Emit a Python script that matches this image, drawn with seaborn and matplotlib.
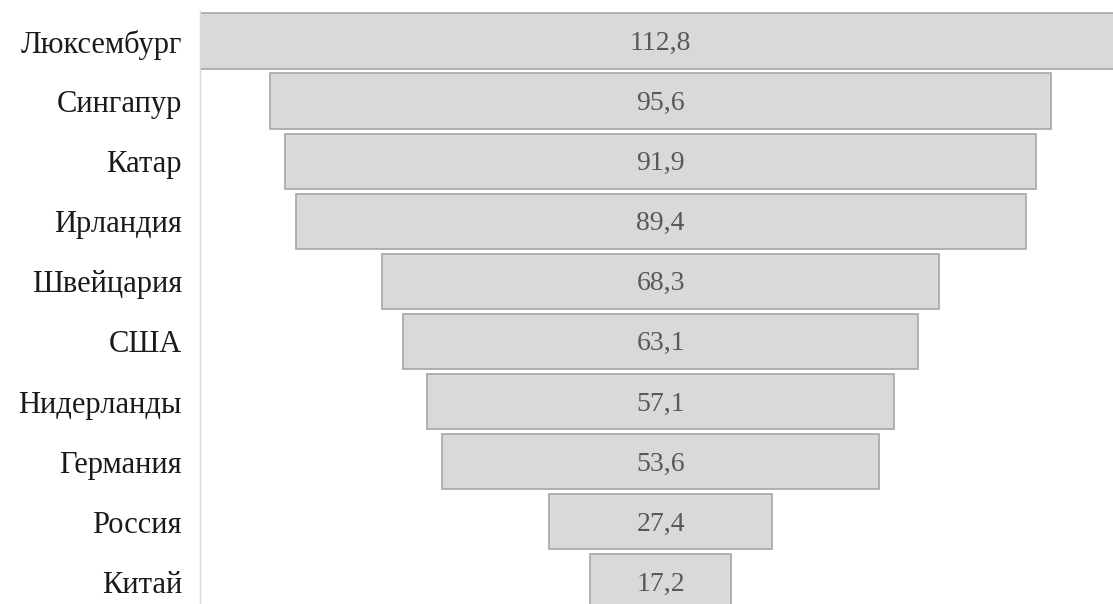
import numpy as np
import pandas as pd
import seaborn as sns
import matplotlib.pyplot as plt

countries = ["Люксембург", "Сингапур", "Катар", "Ирландия", "Швейцария",
             "США", "Нидерланды", "Германия", "Россия", "Китай"]
values = [112.8, 95.6, 91.9, 89.4, 68.3, 63.1, 57.1, 53.6, 27.4, 17.2]
value_labels = ["112,8", "95,6", "91,9", "89,4", "68,3",
                "63,1", "57,1", "53,6", "27,4", "17,2"]

df = pd.DataFrame({"country": countries, "value": values})

sns.set_style("white")
plt.rcParams["font.family"] = ["Liberation Serif", "DejaVu Serif"]

fig = plt.figure(figsize=(11.13, 6.04), dpi=100)
ax = fig.add_axes([200 / 1113, 0, 1 - 200 / 1113, (604 - 11) / 604])

sns.barplot(data=df, x="value", y="country", orient="h", ax=ax,
            color="#d9d9d9", saturation=1, width=0.92,
            edgecolor="#a6a6a6", linewidth=1.2)

# centre every bar on zero to get the funnel
for patch, v, lab in zip(ax.patches, values, value_labels):
    patch.set_x(-v / 2)
    cy = patch.get_y() + patch.get_height() / 2
    ax.text(0, cy + 0.04, lab, ha="center", va="center", fontsize=20, color="#595959")

ax.set_xlim(-56.4, 55.4)
ax.set_ylim(9.37, -0.5)
ax.set_xlabel("")
ax.set_ylabel("")
ax.set_xticks([])
ax.tick_params(axis="y", length=0, pad=13, labelsize=22, labelcolor="#1a1a1a")
for s in ["top", "right", "bottom"]:
    ax.spines[s].set_visible(False)
ax.spines["left"].set_color("#d9d9d9")
ax.spines["left"].set_linewidth(1)

fig.savefig("out.png", dpi=100)
